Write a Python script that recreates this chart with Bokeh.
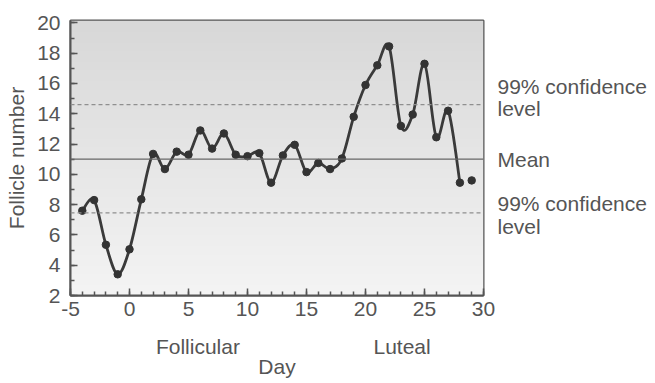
import numpy as np
from bokeh.plotting import figure
from bokeh.models import Span, SingleIntervalTicker, FixedTicker, Range1d, LinearAxis
from bokeh.embed import file_html
from bokeh.resources import INLINE

# ---- data ----
days = [-4, -3, -2, -1, 0, 1, 2, 3, 4, 5, 6, 7, 8, 9, 10, 11, 12, 13, 14, 15,
        16, 17, 18, 19, 20, 21, 22, 23, 24, 25, 26, 27, 28, 29]
follicles = [7.6, 8.3, 5.35, 3.4, 5.05, 8.35, 11.35, 10.35, 11.5, 11.3, 12.9,
             11.7, 12.7, 11.3, 11.2, 11.4, 9.45, 11.25, 11.95, 10.15, 10.75,
             10.35, 11.05, 13.8, 15.9, 17.2, 18.45, 13.2, 13.95, 17.3, 12.45,
             14.2, 9.45, 9.6]
n_curve = 33  # curve joins days -4..28; day 29 is a separate point
mean_level = 11.0
upper_level = 14.6
lower_level = 7.45
phase_labels = ["Follicular", "Luteal"]
phase_pos = [5.8, 23.1]
x_ticks_interval = 5
y_ticks_interval = 2

FONT = "Liberation Sans"
TXT = "#555555"
FS = "21px"

x0, x1 = -5, 30
y0, y1 = 2, 20.16

W, H = 655, 383
p = figure(width=W, height=H, output_backend="svg", toolbar_location=None,
           x_range=Range1d(x0, x1), y_range=Range1d(y0, y1),
           min_border_left=70, min_border_right=W - 483, min_border_top=20,
           min_border_bottom=H - 295)
p.background_fill_color = "#e6e6e6"
p.border_fill_color = "white"
p.outline_line_color = "#555555"
p.outline_line_width = 2
p.xgrid.visible = False
p.ygrid.visible = False

# background vertical gradient
ny = 100
top = np.array([216, 216, 216])
bot = np.array([244, 244, 244])
img = np.empty((ny, 1), dtype=np.uint32)
view = img.view(dtype=np.uint8).reshape((ny, 1, 4))
for i in range(ny):
    t = i / (ny - 1)
    c = bot + (top - bot) * t
    view[i, 0, 0:3] = c.astype(np.uint8)
    view[i, 0, 3] = 255
p.image_rgba(image=[img], x=x0, y=y0, dw=x1 - x0, dh=y1 - y0, level="image")

# reference lines
p.add_layout(Span(location=mean_level, dimension="width", line_color="#666666", line_width=1.2))
p.add_layout(Span(location=upper_level, dimension="width", line_color="#8f8f8f",
                  line_width=1.2, line_dash="4 3"))
p.add_layout(Span(location=lower_level, dimension="width", line_color="#8f8f8f",
                  line_width=1.2, line_dash="4 3"))

# smooth curve (Catmull-Rom -> bezier)
xs = np.array(days[:n_curve], dtype=float)
ys = np.array(follicles[:n_curve], dtype=float)
px = np.concatenate([[xs[0]], xs, [xs[-1]]])
py = np.concatenate([[ys[0]], ys, [ys[-1]]])
bx0, by0, bx1, by1, c0x, c0y, c1x, c1y = [], [], [], [], [], [], [], []
for i in range(1, len(px) - 2):
    bx0.append(px[i]); by0.append(py[i])
    bx1.append(px[i + 1]); by1.append(py[i + 1])
    c0x.append(px[i] + (px[i + 1] - px[i - 1]) / 6)
    c0y.append(py[i] + (py[i + 1] - py[i - 1]) / 6)
    c1x.append(px[i + 1] - (px[i + 2] - px[i]) / 6)
    c1y.append(py[i + 1] - (py[i + 2] - py[i]) / 6)
p.bezier(x0=bx0, y0=by0, x1=bx1, y1=by1, cx0=c0x, cy0=c0y, cx1=c1x, cy1=c1y,
         line_color="#3a3a3a", line_width=2.8)
p.scatter(days, follicles, size=7.5, color="#333333")

# main axes
for ax in (p.xaxis[0], p.yaxis[0]):
    ax.axis_line_color = "#555555"
    ax.axis_line_width = 2
    ax.major_tick_in = 7
    ax.major_tick_out = 0
    ax.minor_tick_in = 4
    ax.minor_tick_out = 0
    ax.major_tick_line_color = "#555555"
    ax.minor_tick_line_color = "#555555"
    ax.major_tick_line_width = 1.5
    ax.minor_tick_line_width = 1.5
    ax.major_label_text_font = FONT
    ax.major_label_text_font_size = FS
    ax.major_label_text_color = TXT
    ax.axis_label_text_font = FONT
    ax.axis_label_text_font_size = FS
    ax.axis_label_text_font_style = "normal"
    ax.axis_label_text_color = TXT

p.xaxis[0].ticker = SingleIntervalTicker(interval=x_ticks_interval, num_minor_ticks=5)
p.yaxis[0].ticker = SingleIntervalTicker(interval=y_ticks_interval, num_minor_ticks=2)
p.xaxis[0].major_label_overrides = {-5: "-5"}
p.yaxis[0].axis_label = "Follicle number"
p.xaxis[0].major_label_standoff = 6
p.yaxis[0].major_label_standoff = 10
p.yaxis[0].axis_label_standoff = 6


def text_axis(ax):
    ax.axis_line_color = None
    ax.major_tick_line_color = None
    ax.minor_tick_line_color = None
    ax.major_tick_in = 0
    ax.major_tick_out = 0
    ax.minor_tick_in = 0
    ax.minor_tick_out = 0
    ax.major_label_text_font = FONT
    ax.major_label_text_font_size = FS
    ax.major_label_text_color = TXT
    ax.axis_label_text_font = FONT
    ax.axis_label_text_font_size = FS
    ax.axis_label_text_font_style = "normal"
    ax.axis_label_text_color = TXT


# phase labels + "Day" as a second bottom axis
phase_axis = LinearAxis(ticker=FixedTicker(ticks=phase_pos),
                        major_label_overrides=dict(zip(phase_pos, phase_labels)),
                        axis_label="Day")
text_axis(phase_axis)
phase_axis.major_label_standoff = 16
phase_axis.axis_label_standoff = -6
p.add_layout(phase_axis, "below")

# right-hand level labels as a text-only right axis
side_pos = [round(upper_level + 1.17, 2), round(upper_level - 0.28, 2), mean_level,
            round(lower_level + 0.62, 2), round(lower_level - 0.89, 2)]
side_txt = ["99%  confidence", "level", "Mean", "99%  confidence", "level"]
side_axis = LinearAxis(ticker=FixedTicker(ticks=side_pos),
                       major_label_overrides=dict(zip(side_pos, side_txt)))
text_axis(side_axis)
side_axis.major_label_standoff = 14
p.add_layout(side_axis, "right")

open("out.html", "w").write(file_html(p, INLINE))
